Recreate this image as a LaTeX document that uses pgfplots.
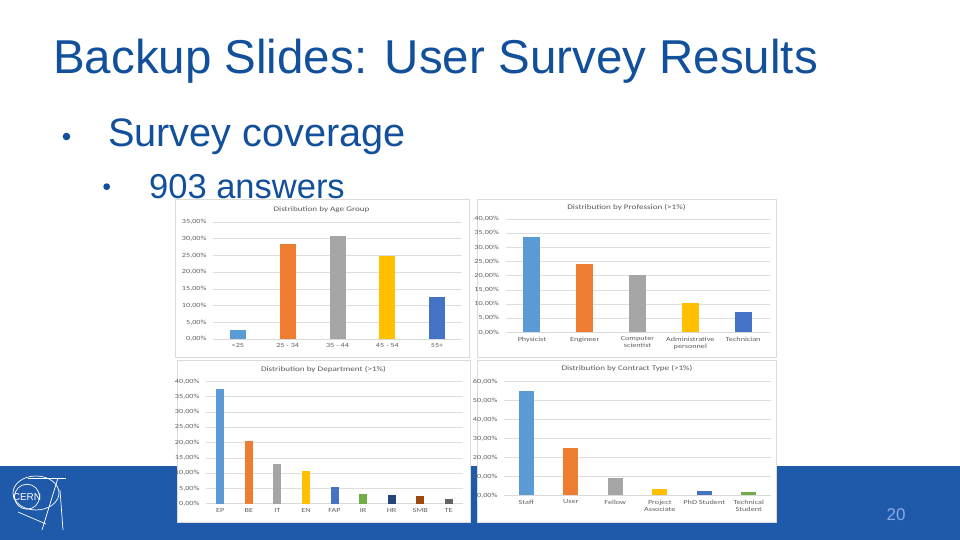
\documentclass[border=0pt]{standalone}
\usepackage{fontspec}
\setmainfont{Liberation Sans}
\newfontfamily\chartfont[FakeStretch=1.3]{Carlito}
\usepackage{pgfplots}
\pgfplotsset{compat=1.18}
\definecolor{slideblue}{RGB}{18,80,155}
\definecolor{bandblue}{RGB}{31,89,170}
\definecolor{oA}{HTML}{5B9BD5}
\definecolor{oB}{HTML}{ED7D31}
\definecolor{oC}{HTML}{A5A5A5}
\definecolor{oD}{HTML}{FFC000}
\definecolor{oE}{HTML}{4472C4}
\definecolor{oF}{HTML}{70AD47}
\definecolor{oG}{HTML}{264478}
\definecolor{oH}{HTML}{9E480E}
\definecolor{oI}{HTML}{636363}
\pgfplotsset{chart/.style={
  scale only axis, anchor=south west,
  axis x line*=bottom, axis y line*=left,
  y axis line style={draw=none},
  x axis line style={draw=black!15, line width=0.6pt, -},
  tick style={draw=none}, major tick length=0pt,
  ymajorgrids, major grid style={draw=black!13, line width=0.5pt},
  ymin=0,
  /pgf/number format/assume math mode=true,
  yticklabel={\pgfmathprintnumber[fixed,fixed zerofill,precision=2,use comma]{\tick}\%},
  ticklabel style={font=\chartfont\fontsize{6.3}{7}\selectfont, text=black!62},
  yticklabel style={xshift=-3pt},
  xticklabel style={align=center, yshift=-1pt},
  ybar,
  every axis plot/.append style={draw=none, bar shift=0pt},
}}
\begin{document}
\begin{tikzpicture}[x=1pt,y=1pt]
\useasboundingbox (0,0) rectangle (960,540);
\fill[white] (0,0) rectangle (960,540);
\fill[bandblue] (0,0) rectangle (960,74);
% CERN logo
\begin{scope}[draw=white, line width=0.7pt]
\draw (27,43.3) circle (12.5);
\node[text=white, font=\fontsize{10}{11}\selectfont, inner sep=0] at (27,43.3) {CERN};
\draw (36,47) ellipse (23 and 17);
\draw (28,62) -- (66,62);
\draw (58,62) -- (42,10);
\draw (60,50) -- (63,10);
\draw (18,28) -- (46,16);
\end{scope}
\node[text={rgb,255:red,135;green,170;blue,228}, font=\fontsize{17}{18}\selectfont] at (896,25) {20};
% slide text
\node[anchor=base west, inner sep=0, text=slideblue, font=\fontsize{47.5}{50}\selectfont] at (53,466.5) {Backup Slides: User Survey Results};
\fill[slideblue] (66.5,403.5) circle (3.8);
\node[anchor=base west, inner sep=0, text=slideblue, font=\fontsize{39.7}{42}\selectfont] at (108,393.3) {Survey coverage};
\fill[slideblue] (106.7,353.3) circle (3.4);
\node[anchor=base west, inner sep=0, text=slideblue, font=\fontsize{34.5}{36}\selectfont] at (149,341.5) {903 answers};
% chart frames
\filldraw[fill=white, draw=black!14, line width=0.6pt] (175,183) rectangle (469,341);
\filldraw[fill=white, draw=black!14, line width=0.6pt] (477,183) rectangle (776,341);
\filldraw[fill=white, draw=black!14, line width=0.6pt] (177,18) rectangle (470,180);
\filldraw[fill=white, draw=black!14, line width=0.6pt] (477,18) rectangle (776,180);
% chart titles
\node[text=black!65, font=\chartfont\fontsize{7}{8}\selectfont] at (321.5,330) {Distribution by Age Group};
\node[text=black!65, font=\chartfont\fontsize{7}{8}\selectfont] at (626.5,332) {Distribution by Profession (>1\%)};
\node[text=black!65, font=\chartfont\fontsize{7}{8}\selectfont] at (323.5,170) {Distribution by Department (>1\%)};
\node[text=black!65, font=\chartfont\fontsize{7}{8}\selectfont] at (627,171) {Distribution by Contract Type (>1\%)};
% Chart 1: age
\begin{axis}[chart, at={(213pt,201pt)}, width=249pt, height=117pt,
  xmin=-0.5, xmax=4.5, ymax=35, ytick={0,5,...,35},
  xtick={0,1,2,3,4}, xticklabels={<25, 25 - 34, 35 - 44, 45 - 54, 55+},
  bar width=16pt]
\addplot[fill=oA] coordinates {(0,2.8)};
\addplot[fill=oB] coordinates {(1,28.3)};
\addplot[fill=oC] coordinates {(2,30.7)};
\addplot[fill=oD] coordinates {(3,24.8)};
\addplot[fill=oE] coordinates {(4,12.5)};
\end{axis}
% Chart 2: profession
\begin{axis}[chart, at={(505.5pt,207.7pt)}, width=264pt, height=113.3pt,
  xmin=-0.5, xmax=4.5, ymax=40, ytick={0,5,...,40},
  xtick={0,1,2,3,4}, xticklabels={Physicist, Engineer, Computer\\scientist, Administrative\\personnel, Technician},
  bar width=17pt]
\addplot[fill=oA] coordinates {(0,33.8)};
\addplot[fill=oB] coordinates {(1,24.1)};
\addplot[fill=oC] coordinates {(2,20.2)};
\addplot[fill=oD] coordinates {(3,10.5)};
\addplot[fill=oE] coordinates {(4,7.1)};
\end{axis}
% Chart 3: department
\begin{axis}[chart, at={(206pt,36.3pt)}, width=257pt, height=122.4pt,
  xmin=-0.5, xmax=8.5, ymax=40, ytick={0,5,...,40},
  xtick={0,...,8}, xticklabels={EP, BE, IT, EN, FAP, IR, HR, SMB, TE},
  bar width=8pt]
\addplot[fill=oA] coordinates {(0,37.5)};
\addplot[fill=oB] coordinates {(1,20.5)};
\addplot[fill=oC] coordinates {(2,13.0)};
\addplot[fill=oD] coordinates {(3,10.8)};
\addplot[fill=oE] coordinates {(4,5.3)};
\addplot[fill=oF] coordinates {(5,3.2)};
\addplot[fill=oG] coordinates {(6,2.9)};
\addplot[fill=oH] coordinates {(7,2.4)};
\addplot[fill=oI] coordinates {(8,1.5)};
\end{axis}
% Chart 4: contract
\begin{axis}[chart, at={(504pt,44.7pt)}, width=267pt, height=113.6pt,
  xmin=-0.5, xmax=5.5, ymax=60, ytick={0,10,...,60},
  xtick={0,...,5}, xticklabels={Staff, User, Fellow, Project\\Associate, PhD Student, Technical\\Student},
  bar width=15pt]
\addplot[fill=oA] coordinates {(0,55.2)};
\addplot[fill=oB] coordinates {(1,25.1)};
\addplot[fill=oC] coordinates {(2,9.2)};
\addplot[fill=oD] coordinates {(3,3.2)};
\addplot[fill=oE] coordinates {(4,2.3)};
\addplot[fill=oF] coordinates {(5,1.9)};
\end{axis}
\end{tikzpicture}
\end{document}
